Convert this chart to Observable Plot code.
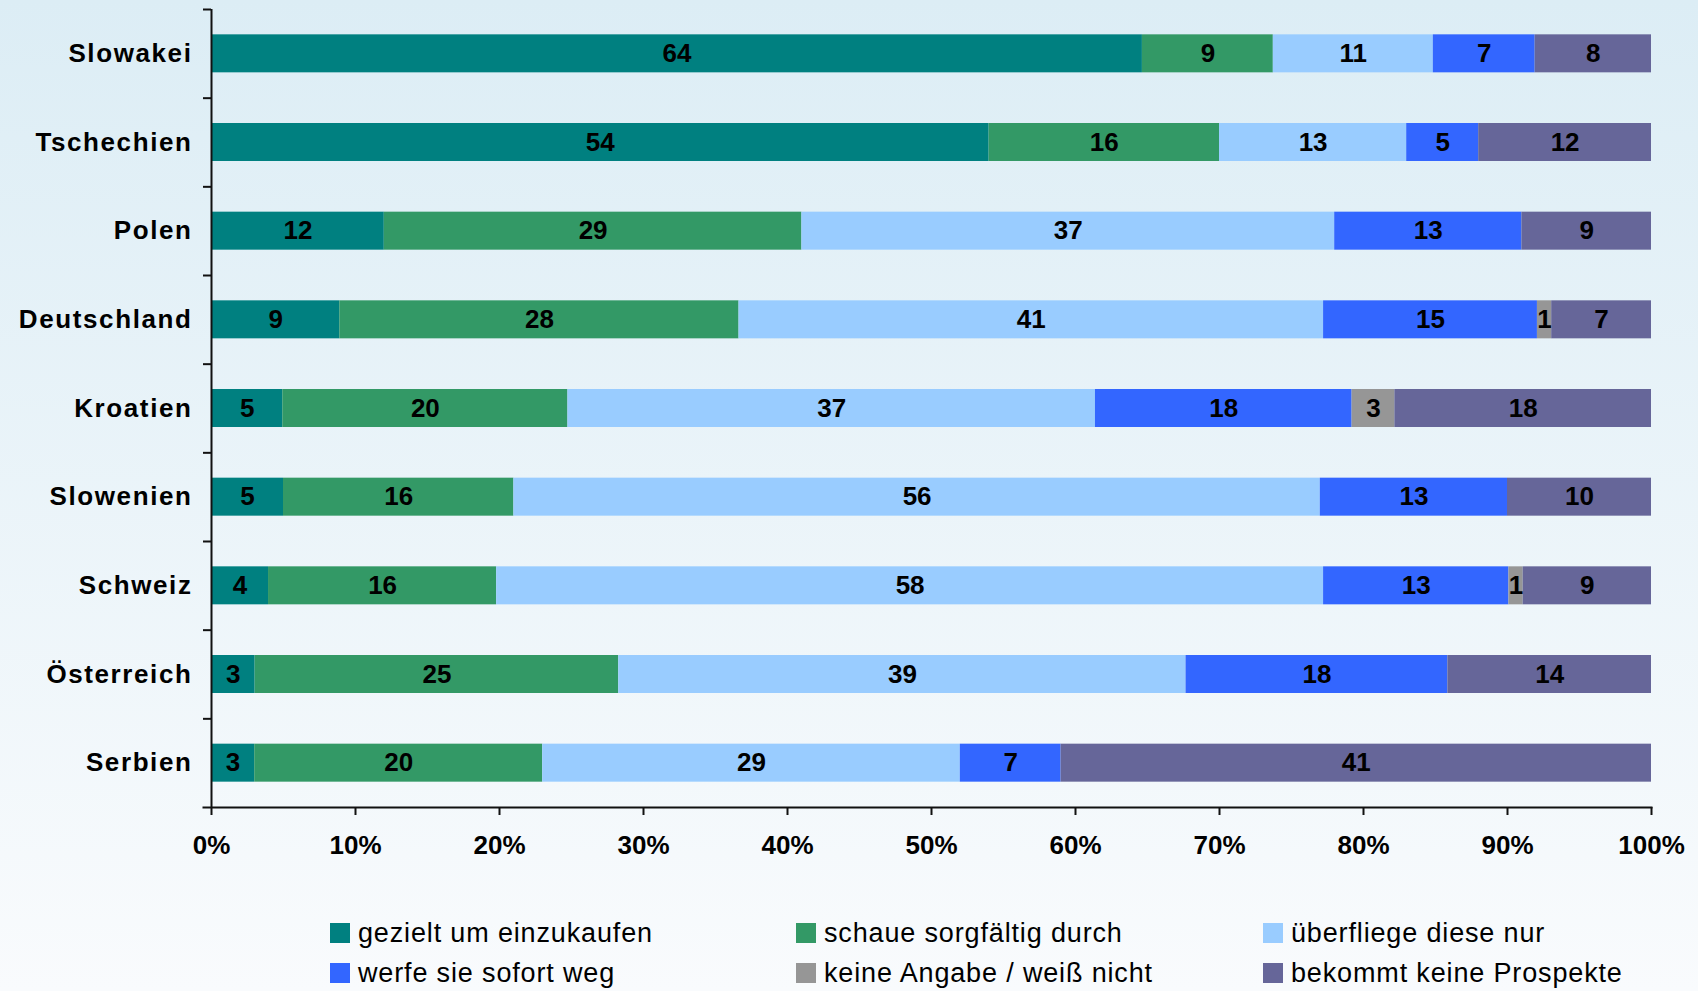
<!DOCTYPE html>
<html>
<head>
<meta charset="utf-8">
<script src="https://cdn.jsdelivr.net/npm/d3@7"></script>
<script src="https://cdn.jsdelivr.net/npm/@observablehq/plot@0.6"></script>
<style>
  html, body { margin: 0; padding: 0; overflow: hidden; }
  body {
    width: 1698px; height: 991px; position: relative;
    background: linear-gradient(#dcedf5, #f9fbfd);
    font-family: "Liberation Sans", Arial, sans-serif;
  }
  #chart svg { display: block; }
  g[aria-label="y-axis tick label"] text { letter-spacing: 1.6px; }
  #legend {
    position: absolute; left: 330px; top: 913px;
    display: grid; grid-template-columns: 466px 467px auto;
    grid-auto-rows: 40px;
  }
  .item { display: flex; align-items: center; font-size: 27px; letter-spacing: 0.85px; color: #000; white-space: nowrap; }
  .sw { width: 20px; height: 20px; margin-right: 8px; flex: none; }
</style>
</head>
<body>
<div id="chart"></div>
<div id="legend"></div>
<script>
const countries = ["Slowakei", "Tschechien", "Polen", "Deutschland", "Kroatien", "Slowenien", "Schweiz", "Österreich", "Serbien"];
const seriesNames = ["gezielt um einzukaufen", "schaue sorgfältig durch", "überfliege diese nur", "werfe sie sofort weg", "keine Angabe / weiß nicht", "bekommt keine Prospekte"];
const seriesColors = ["#008080", "#339966", "#99ccff", "#3366ff", "#969696", "#666699"];

const gezielt     = [64, 54, 12,  9,  5,  5,  4,  3,  3];
const schaue      = [ 9, 16, 29, 28, 20, 16, 16, 25, 20];
const ueberfliege = [11, 13, 37, 41, 37, 56, 58, 39, 29];
const werfe       = [ 7,  5, 13, 15, 18, 13, 13, 18,  7];
const keineAngabe = [ 0,  0,  0,  1,  3,  0,  1,  0,  0];
const bekommt     = [ 8, 12,  9,  7, 18, 10,  9, 14, 41];

const xTicks = [0, 0.1, 0.2, 0.3, 0.4, 0.5, 0.6, 0.7, 0.8, 0.9, 1];

const seriesValues = [gezielt, schaue, ueberfliege, werfe, keineAngabe, bekommt];
const data = countries.flatMap((c, i) =>
  seriesNames.map((s, j) => ({country: c, series: s, value: seriesValues[j][i]}))
).filter(d => d.value > 0);

const W = 1698, H = 880, mt = 9, mb = 73, ml = 211, mr = 47;
const step = (H - mt - mb) / countries.length;
const barH = 38;
const inset = (step - barH) / 2;

const chart = Plot.plot({
  width: W, height: H,
  marginTop: mt, marginBottom: mb, marginLeft: ml, marginRight: mr,
  style: {background: "transparent", fontFamily: "Liberation Sans, Arial, sans-serif", color: "#000", overflow: "visible"},
  x: {domain: [0, 1]},
  y: {domain: countries, padding: 0, round: false},
  color: {domain: seriesNames, range: seriesColors},
  marks: [
    Plot.barX(data, Plot.stackX({x: "value", y: "country", fill: "series", z: "series", offset: "normalize", insetTop: inset, insetBottom: inset})),
    Plot.text(data, Plot.stackX({x: "value", y: "country", z: "series", offset: "normalize", text: d => String(d.value), fontSize: 26, fontWeight: "bold", fill: "#000"})),
    Plot.ruleX([0], {stroke: "#111", strokeWidth: 2}),
    Plot.ruleY(countries, {y: d => d, x1: 0, x2: 0, insetLeft: -8, dy: -step / 2, stroke: "#111", strokeWidth: 2}),
    Plot.frame({anchor: "bottom", insetLeft: -8, stroke: "#111", strokeWidth: 2}),
    Plot.axisX({ticks: xTicks, tickSize: 8, tickPadding: 20, tickFormat: d3.format(".0%"), fontSize: 26, fontWeight: "bold", stroke: "#111", strokeWidth: 2, label: null}),
    Plot.axisY({tickSize: 0, tickPadding: 19, fontSize: 26, fontWeight: "bold", label: null})
  ]
});
document.getElementById("chart").appendChild(chart);

const legend = document.getElementById("legend");
for (let j = 0; j < seriesNames.length; j++) {
  const it = document.createElement("div");
  it.className = "item";
  const sw = document.createElement("span");
  sw.className = "sw";
  sw.style.background = seriesColors[j];
  it.appendChild(sw);
  it.appendChild(document.createTextNode(seriesNames[j]));
  legend.appendChild(it);
}
</script>
</body>
</html>
